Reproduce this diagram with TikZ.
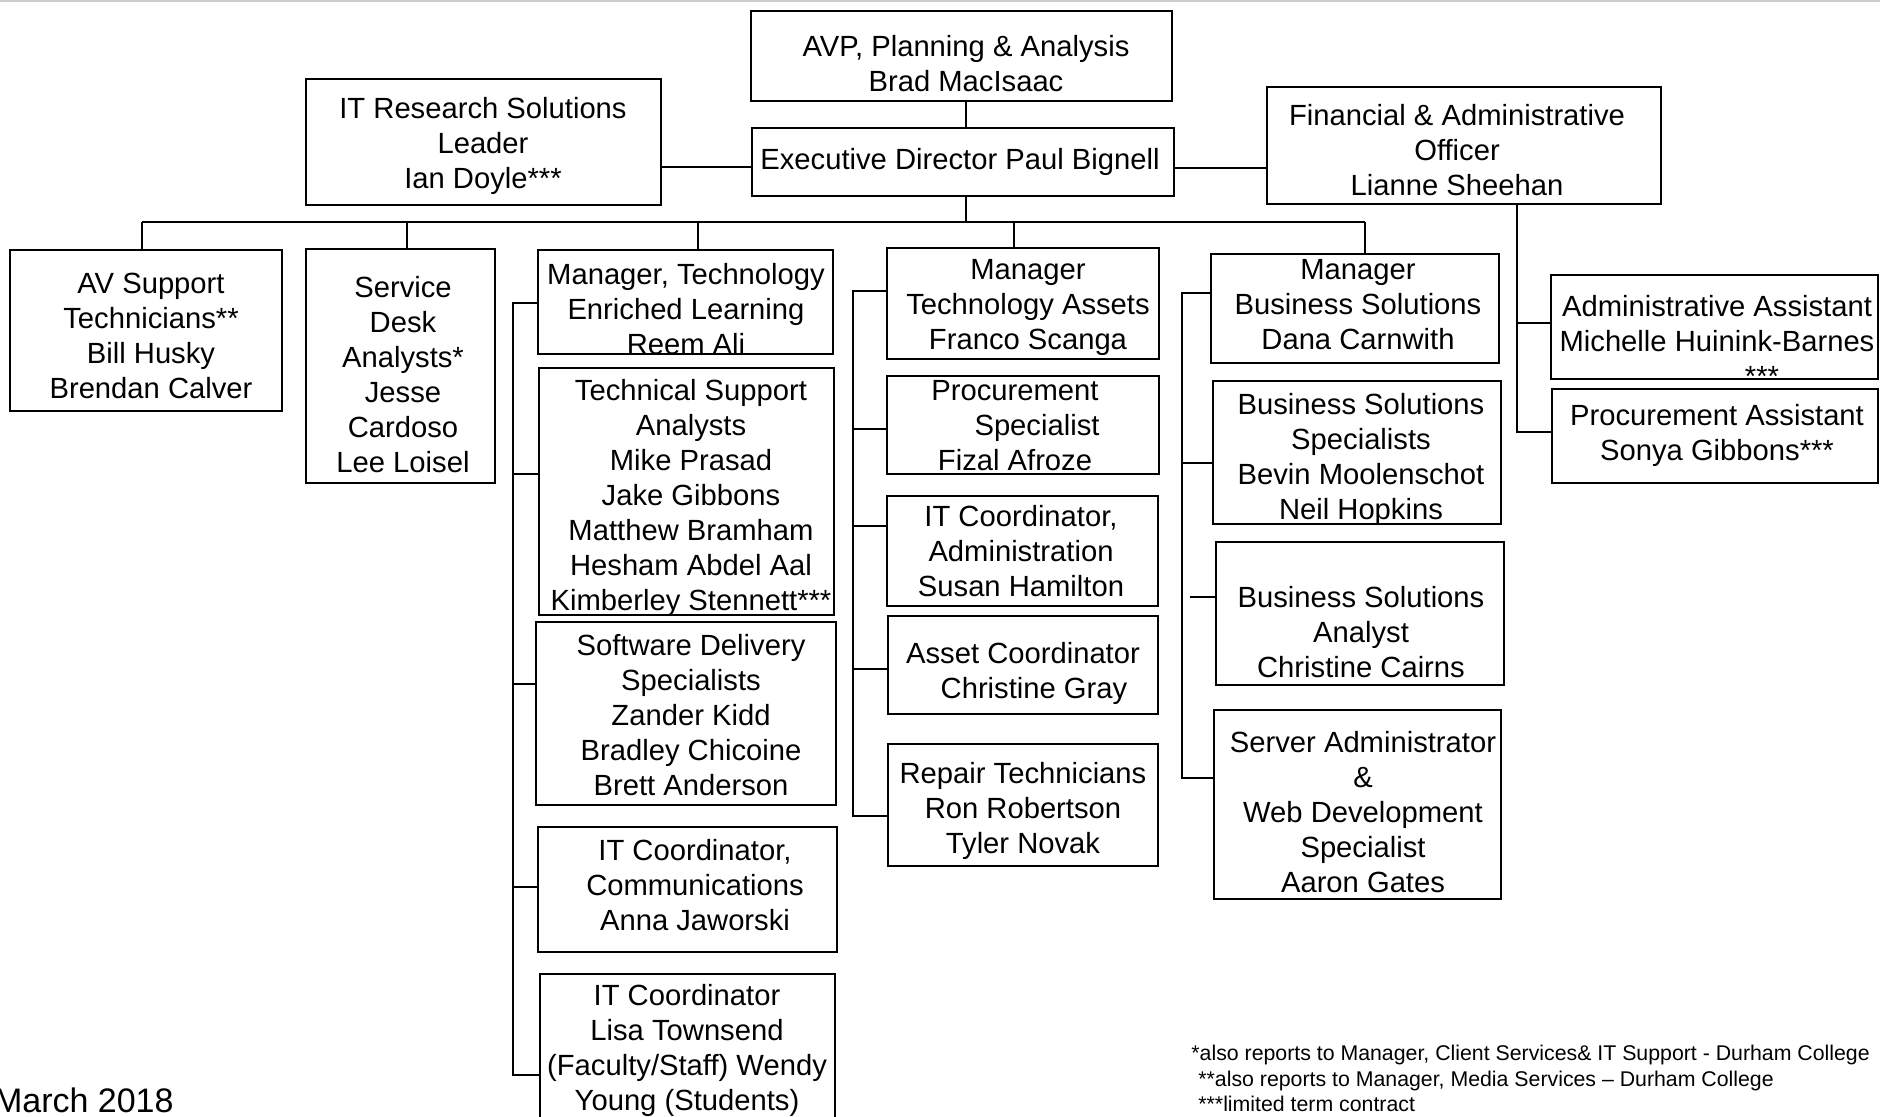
\documentclass[tikz,border=0pt]{standalone}
\usepackage{fontspec}
\setmainfont{Liberation Sans}
\tikzset{
  orgbox/.style={draw=black, line width=1pt, rectangle, inner sep=0pt, outer sep=0pt},
  txt/.style={align=center, inner sep=0pt, font=\fontsize{14.6}{17.5}\selectfont},
  link/.style={draw=black, line width=1.1pt},
  note/.style={align=left, inner sep=0pt, font=\fontsize{10.65}{12.75}\selectfont, anchor=west},
}
\newcommand{\mkbox}[5]{\node[orgbox, minimum width={(#4-#2)*0.5pt}, minimum height={(#5-#3)*0.5pt}] (#1) at ({(#2+#4)/2},{(#3+#5)/2}) {};}
\newcommand{\mktxt}[4]{\node[txt] (#1) at (#2,{#3+3}) {\strut #4\strut};}
\begin{document}
\begin{tikzpicture}[x=0.5pt,y=-0.5pt]
\useasboundingbox (0,0) rectangle (1880,1116);
\clip (0,0) rectangle (1880,1116);
\draw[gray!40, line width=1pt] (0,1) -- (1880,1);
% boxes
\mkbox{avp}{751}{11}{1172}{101}
\mkbox{exec}{752}{128}{1174}{196}
\mkbox{itr}{306}{79}{661}{205}
\mkbox{fin}{1267}{87}{1661}{204}
\mkbox{av}{10}{250}{282}{411}
\mkbox{sd}{306}{249}{495}{483}
\mkbox{tel}{538}{250}{833}{354}
\mkbox{ts}{539}{368}{834}{615}
\mkbox{sds}{536}{622}{836}{805}
\mkbox{comm}{538}{827}{837}{952}
\mkbox{lisa}{540}{974}{835}{1130}
\mkbox{ta}{887}{248}{1159}{359}
\mkbox{proc}{887}{376}{1159}{474}
\mkbox{itadm}{887}{496}{1158}{606}
\mkbox{asset}{888}{616}{1158}{714}
\mkbox{repair}{888}{744}{1158}{866}
\mkbox{mbs}{1211}{254}{1499}{363}
\mkbox{bss}{1213}{381}{1501}{524}
\mkbox{bsa}{1216}{542}{1504}{685}
\mkbox{server}{1214}{710}{1501}{899}
\mkbox{aa}{1551}{275}{1878}{379}
\mkbox{pa}{1552}{389}{1878}{483}
% texts
\mktxt{t-avp}{966}{64}{AVP, Planning \& Analysis\\Brad MacIsaac}
\mktxt{t-exec}{960}{159}{Executive Director Paul Bignell}
\mktxt{t-itr}{483}{143}{IT Research Solutions\\Leader\\Ian Doyle***}
\mktxt{t-fin}{1457}{150}{Financial \& Administrative\\Officer\\Lianne Sheehan}
\mktxt{t-av}{151}{336}{AV Support\\Technicians**\\Bill Husky\\Brendan Calver}
\mktxt{t-sd}{403}{375}{Service\\Desk\\Analysts*\\Jesse\\Cardoso\\Lee Loisel}
\mktxt{t-tel}{686}{309}{Manager, Technology\\Enriched Learning\\Reem Ali}
\mktxt{t-ts}{691}{495}{Technical Support\\Analysts\\Mike Prasad\\Jake Gibbons\\Matthew Bramham\\Hesham Abdel Aal\\Kimberley Stennett***}
\mktxt{t-sds}{691}{715}{Software Delivery\\Specialists\\Zander Kidd\\Bradley Chicoine\\Brett Anderson}
\mktxt{t-comm}{695}{885}{IT Coordinator,\\Communications\\Anna Jaworski}
\mktxt{t-lisa}{687}{1048}{IT Coordinator\\Lisa Townsend\\(Faculty/Staff) Wendy\\Young (Students)}
\mktxt{t-ta}{1028}{304}{Manager\\Technology Assets\\Franco Scanga}
\mktxt{t-proc}{1015}{425}{Procurement\\\hspace*{22pt}Specialist\\Fizal Afroze}
\mktxt{t-itadm}{1021}{551}{IT Coordinator,\\Administration\\Susan Hamilton}
\mktxt{t-asset}{1023}{671}{Asset Coordinator\\\hspace*{11pt}Christine Gray}
\mktxt{t-repair}{1023}{808}{Repair Technicians\\Ron Robertson\\Tyler Novak}
\mktxt{t-mbs}{1358}{304}{Manager\\Business Solutions\\Dana Carnwith}
\mktxt{t-bss}{1361}{457}{Business Solutions\\Specialists\\Bevin Moolenschot\\Neil Hopkins}
\mktxt{t-bsa}{1361}{632}{Business Solutions\\Analyst\\Christine Cairns}
\mktxt{t-server}{1363}{812}{Server Administrator\\\&\\Web Development\\Specialist\\Aaron Gates}
\mktxt{t-aa}{1717}{341}{Administrative Assistant\\Michelle Huinink-Barnes\\\hspace*{45pt}***}
\mktxt{t-pa}{1717}{433}{Procurement Assistant\\Sonya Gibbons***}
% top connectors
\coordinate (b0) at (966,222);
\coordinate (bL) at (142,222);
\coordinate (d2) at (407,222);
\coordinate (d3) at (698,222);
\coordinate (d4) at (1014,222);
\coordinate (bR) at (1365,222);
\draw[link] (avp.south -| b0) -- (exec.north -| b0);
\draw[link] (itr.east |- 0,167) -- (exec.west |- 0,167);
\draw[link] (exec.east |- 0,168) -- (fin.west |- 0,168);
\draw[link] (exec.south -| b0) -- (b0);
\draw[link] (bL) -- (bR);
\draw[link] (bL) -- (bL |- av.north);
\draw[link] (d2) -- (d2 |- sd.north);
\draw[link] (d3) -- (d3 |- tel.north);
\draw[link] (d4) -- (d4 |- ta.north);
\draw[link] (bR) -- (bR |- mbs.north);
% group: technology enriched learning
\coordinate (g1t) at (513,303);
\coordinate (g1b) at (513,1075);
\draw[link] (tel.west |- g1t) -- (g1t) -- (g1b) -- (lisa.west |- g1b);
\draw[link] (g1t |- 0,474) -- (ts.west |- 0,474);
\draw[link] (g1t |- 0,684) -- (sds.west |- 0,684);
\draw[link] (g1t |- 0,887) -- (comm.west |- 0,887);
% group: technology assets
\coordinate (g2t) at (853,291);
\coordinate (g2b) at (853,816);
\draw[link] (ta.west |- g2t) -- (g2t) -- (g2b) -- (repair.west |- g2b);
\draw[link] (g2t |- 0,429) -- (proc.west |- 0,429);
\draw[link] (g2t |- 0,526) -- (itadm.west |- 0,526);
\draw[link] (g2t |- 0,669) -- (asset.west |- 0,669);
% group: business solutions
\coordinate (g3t) at (1182,293);
\coordinate (g3b) at (1182,778);
\coordinate (bsa0) at (1190,597);
\draw[link] (mbs.west |- g3t) -- (g3t) -- (g3b) -- (server.west |- g3b);
\draw[link] (g3t |- 0,463) -- (bss.west |- 0,463);
\draw[link] (bsa0) -- (bsa.west |- bsa0);
% group: financial officer
\coordinate (g4b) at (1517,432);
\draw[link] (fin.south -| g4b) -- (g4b) -- (pa.west |- g4b);
\draw[link] (g4b |- 0,323) -- (aa.west |- 0,323);
% footer
\node[font=\fontsize{17}{20}\selectfont, anchor=base east, inner sep=0pt] (date) at (174,1112) {March 2018};
\node[note] (notes) at (1191,1081) {\strut*also reports to Manager, Client Services\& IT Support - Durham College\\\hspace*{3.5pt}**also reports to Manager, Media Services – Durham College\\\hspace*{3.5pt}***limited term contract\strut};
\end{tikzpicture}
\end{document}
